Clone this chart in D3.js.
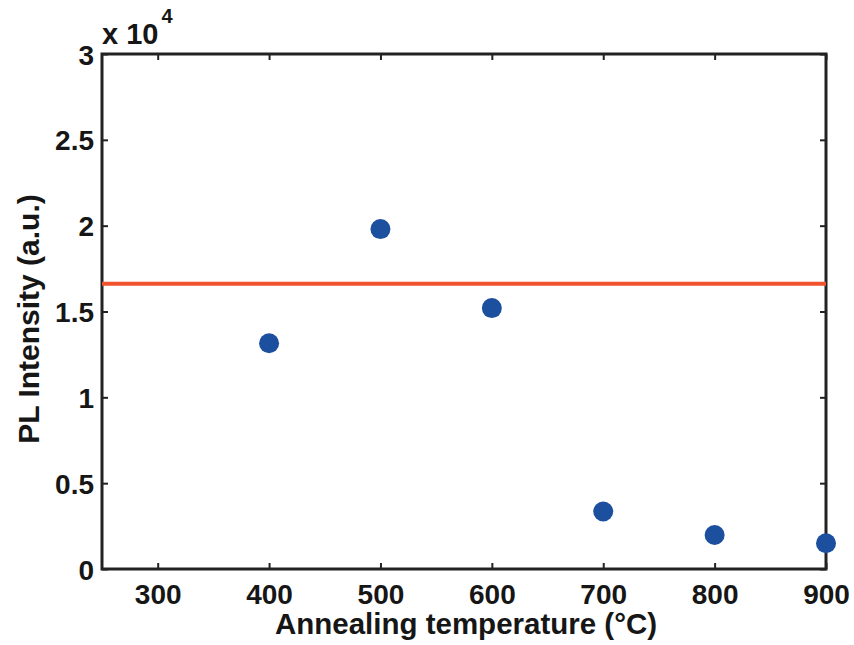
<!DOCTYPE html>
<html>
<head>
<meta charset="utf-8">
<script src="https://cdn.jsdelivr.net/npm/d3@7"></script>
<style>
  html, body { margin: 0; padding: 0; background: #fff; }
  svg text { font-family: "Liberation Sans", Arial, Helvetica, sans-serif; font-weight: bold; fill: #161616; }
</style>
</head>
<body>
<svg id="chart" width="854" height="645"></svg>
<script>
// Annealing temperature (°C) and measured PL intensity (a.u.)
const temperatures = [400, 500, 600, 700, 800, 900];
const intensities = [13150, 19800, 15200, 3350, 1980, 1500];
// Reference PL intensity level (horizontal line)
const referenceLevel = 16620;

const xTicks = [300, 400, 500, 600, 700, 800, 900];
const yTicks = [0, 5000, 10000, 15000, 20000, 25000, 30000];
const yTickLabels = ["0", "0.5", "1", "1.5", "2", "2.5", "3"];

const svg = d3.select("#chart");
const m = { left: 102, right: 826, top: 54, bottom: 569 };

const x = d3.scaleLinear().domain([250, 900]).range([m.left, m.right]);
const y = d3.scaleLinear().domain([0, 30000]).range([m.bottom, m.top]);

const axisColor = "#222";
const tickLen = 6;

// bottom axis with labels
const gx = svg.append("g").attr("transform", `translate(0,${m.bottom})`)
  .call(d3.axisBottom(x).tickValues(xTicks).tickSizeInner(-tickLen).tickSizeOuter(0).tickPadding(16));
// top mirror axis (ticks only)
const gxt = svg.append("g").attr("transform", `translate(0,${m.top})`)
  .call(d3.axisTop(x).tickValues(xTicks).tickSizeInner(-tickLen).tickSizeOuter(0).tickFormat(""));
// left axis with labels
const gy = svg.append("g").attr("transform", `translate(${m.left},0)`)
  .call(d3.axisLeft(y).tickValues(yTicks).tickSizeInner(-tickLen).tickSizeOuter(0).tickPadding(8)
    .tickFormat((d, i) => yTickLabels[i]));
// right mirror axis (ticks only)
const gyr = svg.append("g").attr("transform", `translate(${m.right},0)`)
  .call(d3.axisRight(y).tickValues(yTicks).tickSizeInner(-tickLen).tickSizeOuter(0).tickFormat(""));

[gx, gxt, gy, gyr].forEach(g => {
  g.select(".domain").remove();
  g.selectAll(".tick line").attr("stroke", axisColor).attr("stroke-width", 2);
  g.selectAll(".tick text").attr("font-size", 28).attr("fill", "#161616")
    .attr("font-family", "'Liberation Sans', Arial, sans-serif").attr("font-weight", "bold");
});
gx.selectAll(".tick text").attr("dy", "0.68em");
gy.selectAll(".tick text").attr("dy", "0.36em");

// plot frame
svg.append("rect")
  .attr("x", m.left).attr("y", m.top)
  .attr("width", m.right - m.left).attr("height", m.bottom - m.top)
  .attr("fill", "none").attr("stroke", axisColor).attr("stroke-width", 3);

// reference line
svg.append("line")
  .attr("x1", x(250)).attr("x2", x(900))
  .attr("y1", y(referenceLevel)).attr("y2", y(referenceLevel))
  .attr("stroke", "#f0522e").attr("stroke-width", 4);

// data points
svg.append("g").selectAll("circle")
  .data(temperatures.map((t, i) => ({ t, v: intensities[i] })))
  .join("circle")
  .attr("cx", d => x(d.t)).attr("cy", d => y(d.v))
  .attr("r", 10).attr("fill", "#1c4f9e");

// exponent label
const expo = svg.append("text").attr("x", m.left).attr("y", 44).attr("font-size", 29);
expo.append("tspan").text("x 10");
expo.append("tspan").attr("font-size", 20).attr("dy", -21).attr("dx", 3).text("4");

// axis titles
svg.append("text")
  .attr("x", 466).attr("y", 634)
  .attr("text-anchor", "middle").attr("font-size", 29.5)
  .text("Annealing temperature (°C)");

svg.append("text")
  .attr("transform", `translate(39,319) rotate(-90)`)
  .attr("text-anchor", "middle").attr("font-size", 30)
  .text("PL Intensity (a.u.)");
</script>
</body>
</html>
